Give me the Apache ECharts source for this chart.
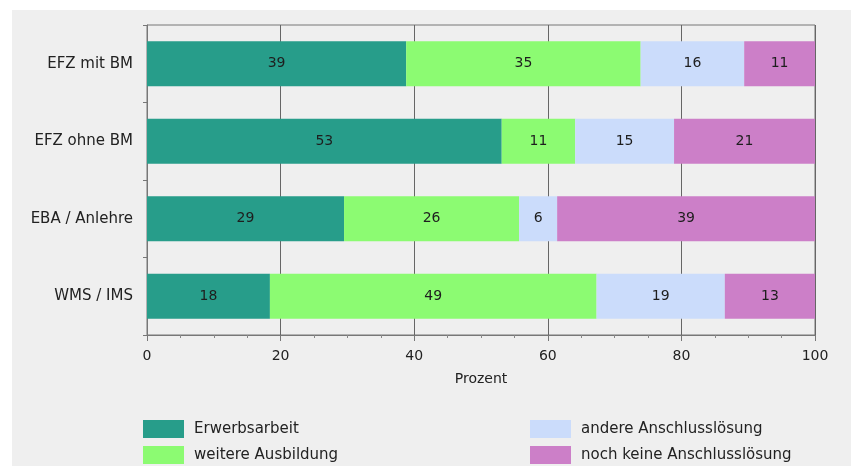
<!DOCTYPE html>
<html>
<head>
<meta charset="utf-8">
<title>Anschlusslösungen</title>
<script src="https://cdn.jsdelivr.net/npm/echarts@6/dist/echarts.min.js"></script>
<style>
    html, body { margin: 0; padding: 0; background: #ffffff; }
    #main { width: 851px; height: 466px; }
</style>
</head>
<body>
<div id="main"></div>
<script>
// categories, top to bottom
var categories = ['EFZ mit BM', 'EFZ ohne BM', 'EBA / Anlehre', 'WMS / IMS'];
var seriesNames = ['Erwerbsarbeit', 'weitere Ausbildung', 'andere Anschlusslösung', 'noch keine Anschlusslösung'];

// segment lengths in percent
var erwerbsarbeit = [38.8, 53.1, 29.5, 18.4];
var weitereAusbildung = [35.1, 11.0, 26.2, 48.9];
var andereLoesung = [15.5, 14.8, 5.7, 19.2];
var keineLoesung = [10.6, 21.1, 38.6, 13.5];

// numbers printed in the bars
var erwerbsarbeitLabels = [39, 53, 29, 18];
var weitereAusbildungLabels = [35, 11, 26, 49];
var andereLoesungLabels = [16, 15, 6, 19];
var keineLoesungLabels = [11, 21, 39, 13];

var xTicks = [0, 20, 40, 60, 80, 100];

var colors = ['#279d8a', '#8cfb72', '#cbdcfb', '#cc7fc8'];
var font = 'DejaVu Sans';

var myChart = echarts.init(document.getElementById('main'));

function makeSeries(name, values, labels, color) {
    return {
        name: name,
        type: 'bar',
        stack: 'total',
        barWidth: 45,
        data: values,
        itemStyle: { color: color },
        label: {
            show: true,
            position: 'inside',
            color: '#1e1e1e',
            fontSize: 14,
            fontFamily: font,
            formatter: function (p) {
                return labels[p.dataIndex];
            }
        }
    };
}

// one legend column
function makeLegend(left, names) {
    return {
        orient: 'vertical',
        left: left,
        top: 420,
        height: 60,
        padding: 0,
        itemWidth: 41,
        itemHeight: 18,
        itemGap: 8,
        icon: 'rect',
        data: names,
        textStyle: { fontSize: 15, color: '#222', fontFamily: font, padding: [0, 0, 0, 5] }
    };
}

var option = {
    backgroundColor: '#ffffff',
    animation: false,
    // grey panel behind everything
    graphic: [{
        type: 'rect',
        left: 12,
        top: 10,
        z: -10,
        shape: { width: 839, height: 456 },
        style: { fill: '#efefef' }
    }],
    grid: {
        left: 147,
        right: 36,
        top: 25,
        bottom: 131,
        show: true,
        borderColor: '#777',
        borderWidth: 1,
        backgroundColor: 'transparent'
    },
    legend: [
        makeLegend(143, [seriesNames[0], seriesNames[1]]),
        makeLegend(530, [seriesNames[2], seriesNames[3]])
    ],
    xAxis: {
        type: 'value',
        min: xTicks[0],
        max: xTicks[xTicks.length - 1],
        interval: 20,
        name: 'Prozent',
        nameLocation: 'middle',
        nameGap: 37,
        nameTextStyle: { fontSize: 14, color: '#222', fontFamily: font },
        axisLine: { show: true, lineStyle: { color: '#777' } },
        axisTick: { show: true, length: 6, lineStyle: { color: '#777' } },
        minorTick: { show: true, splitNumber: 4, length: 3, lineStyle: { color: '#888' } },
        axisLabel: { fontSize: 14, color: '#222', fontFamily: font, margin: 14 },
        splitLine: { show: true, lineStyle: { color: '#666', width: 1 } }
    },
    yAxis: {
        type: 'category',
        inverse: true,
        data: categories,
        axisLine: { show: true, lineStyle: { color: '#777' } },
        axisTick: { show: true, length: 4, lineStyle: { color: '#777' } },
        axisLabel: { fontSize: 15, color: '#222', fontFamily: font, margin: 14 },
        splitLine: { show: false }
    },
    series: [
        makeSeries(seriesNames[0], erwerbsarbeit, erwerbsarbeitLabels, colors[0]),
        makeSeries(seriesNames[1], weitereAusbildung, weitereAusbildungLabels, colors[1]),
        makeSeries(seriesNames[2], andereLoesung, andereLoesungLabels, colors[2]),
        makeSeries(seriesNames[3], keineLoesung, keineLoesungLabels, colors[3])
    ]
};

myChart.setOption(option);
</script>
</body>
</html>
